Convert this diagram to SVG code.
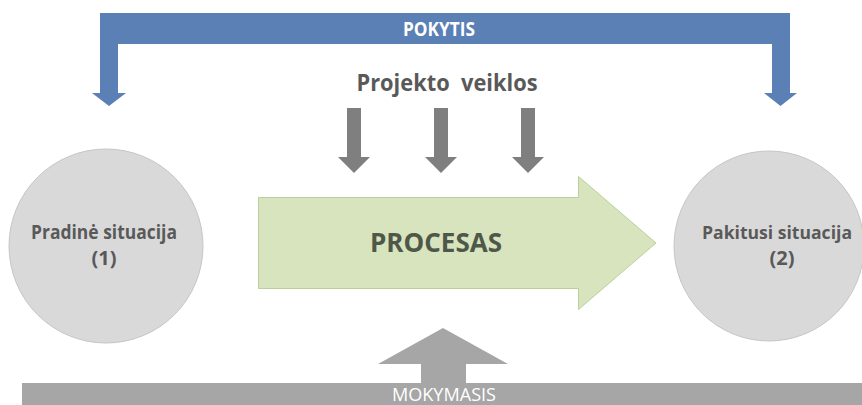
<svg xmlns="http://www.w3.org/2000/svg" width="862" height="405" viewBox="0 0 862 405">
<style>
.lbl{font-family:"Open Sans","Liberation Sans",sans-serif;font-weight:bold;fill:#595959;text-anchor:middle}
.wht{font-family:"Open Sans","Liberation Sans",sans-serif;fill:#ffffff;text-anchor:middle}
.circ{fill:#d9d9d9;stroke:#c6c6c6;stroke-width:1}
.darr{fill:#7f7f7f}
.garr{fill:#a6a6a6}
.blue{fill:#5a80b5}
</style>
<rect width="862" height="405" fill="#ffffff"/>
<g id="pokytis">
<path class="blue" d="M100,13 H790 V93 H797 L780.5,106 L764,93 H772 V44 H118 V93 H126 L109,106 L92,93 H100 Z"/>
<text class="wht" x="439" y="36" font-size="19" font-weight="bold" textLength="72" lengthAdjust="spacingAndGlyphs">POKYTIS</text>
</g>
<g id="projekto-veiklos">
<text class="lbl" x="447" y="91" font-size="23" xml:space="preserve" textLength="181" lengthAdjust="spacingAndGlyphs">Projekto  veiklos</text>
</g>
<g id="connectors">
<path class="darr" d="M347,108 H361 V157 H370 L354,173 L338,157 H347 Z"/>
<path class="darr" d="M434,108 H448 V157 H457 L441,173 L425,157 H434 Z"/>
<path class="darr" d="M521,108 H535 V157 H544 L528,173 L512,157 H521 Z"/>
<path class="garr" d="M421,383 V364 H378 L443,328 L508,364 H466 V383 Z"/>
</g>
<g id="pradine">
<circle class="circ" cx="106" cy="246" r="97"/>
<text class="lbl" x="104" y="239" font-size="20" textLength="146" lengthAdjust="spacingAndGlyphs">Pradinė situacija</text>
<text class="lbl" x="104" y="265" font-size="20">(1)</text>
</g>
<g id="procesas">
<path d="M258.5,197.5 H578.5 V176.5 L656,243 L578.5,309.5 V288.5 H258.5 Z" fill="#d7e4bd" stroke="#bccf9b" stroke-width="1"/>
<text x="436" y="252" font-size="27" font-family="'Open Sans','Liberation Sans',sans-serif" font-weight="bold" fill="#4f5749" text-anchor="middle" textLength="132" lengthAdjust="spacingAndGlyphs">PROCESAS</text>
</g>
<g id="pakitusi">
<circle class="circ" cx="769" cy="246" r="95"/>
<text class="lbl" x="777" y="239" font-size="18" textLength="150" lengthAdjust="spacingAndGlyphs">Pakitusi situacija</text>
<text class="lbl" x="782" y="265" font-size="20">(2)</text>
</g>
<g id="mokymasis">
<rect class="garr" x="22" y="383" width="840" height="22"/>
<text class="wht" x="444" y="401" font-size="18" textLength="104" lengthAdjust="spacingAndGlyphs">MOKYMASIS</text>
</g>
</svg>
